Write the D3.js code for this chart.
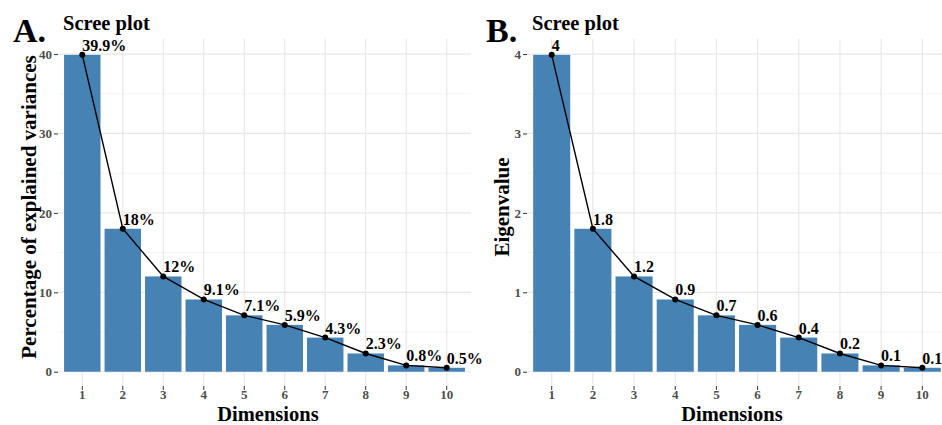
<!DOCTYPE html>
<html>
<head>
<meta charset="utf-8">
<script src="https://cdn.jsdelivr.net/npm/d3@7"></script>
<style>
  body { margin: 0; background: #fff; }
  svg text { font-family: "Liberation Serif", "Times New Roman", serif; font-weight: bold; }
</style>
</head>
<body>
<div id="chart"></div>
<script>
// Data
var dims = [1, 2, 3, 4, 5, 6, 7, 8, 9, 10];
var variances = [39.9, 18, 12, 9.1, 7.1, 5.9, 4.3, 2.3, 0.8, 0.5];
var varLabels = ["39.9%", "18%", "12%", "9.1%", "7.1%", "5.9%", "4.3%", "2.3%", "0.8%", "0.5%"];
var eigenvalues = [3.99, 1.8, 1.2, 0.91, 0.71, 0.59, 0.43, 0.23, 0.08, 0.05];
var eigLabels = ["4", "1.8", "1.2", "0.9", "0.7", "0.6", "0.4", "0.2", "0.1", "0.1"];
var varTicks = [0, 10, 20, 30, 40];
var varMinor = [5, 15, 25, 35];
var eigTicks = [0, 1, 2, 3, 4];
var eigMinor = [0.5, 1.5, 2.5, 3.5];

var W = 942, H = 425;
var SERIF = '"Liberation Serif", "Times New Roman", serif';

var svg = d3.select("#chart")
    .append("svg")
    .attr("width", W)
    .attr("height", H)
    .attr("font-family", SERIF);

function screePlot(opt) {
    var g = svg.append("g");
    var top = 39, bottom = 386;
    var maxV = d3.max(opt.values);

    var x = d3.scaleBand()
        .domain(dims)
        .range([opt.left, opt.right])
        .paddingInner(0.1)
        .paddingOuter(0.15);

    var y = d3.scaleLinear()
        .domain([-0.045 * maxV, 1.05 * maxV])
        .range([bottom, top]);

    // grid
    g.append("g").selectAll("line")
        .data(opt.minor)
        .enter().append("line")
        .attr("x1", opt.left).attr("x2", opt.right)
        .attr("y1", d => y(d)).attr("y2", d => y(d))
        .attr("stroke", "#f4f4f4").attr("stroke-width", 1);
    g.append("g").selectAll("line")
        .data(opt.ticks)
        .enter().append("line")
        .attr("x1", opt.left).attr("x2", opt.right)
        .attr("y1", d => y(d)).attr("y2", d => y(d))
        .attr("stroke", "#e8e8e8").attr("stroke-width", 1.2);
    g.append("g").selectAll("line")
        .data(dims)
        .enter().append("line")
        .attr("x1", d => x(d) + x.bandwidth() / 2).attr("x2", d => x(d) + x.bandwidth() / 2)
        .attr("y1", top).attr("y2", bottom)
        .attr("stroke", "#e8e8e8").attr("stroke-width", 1.2);

    // bars
    g.append("g").selectAll("rect")
        .data(opt.values)
        .enter().append("rect")
        .attr("x", (d, i) => x(dims[i]))
        .attr("y", d => y(d))
        .attr("width", x.bandwidth())
        .attr("height", d => y(0) - y(d))
        .attr("fill", "#4682B4");

    // line + points
    var line = d3.line()
        .x((d, i) => x(dims[i]) + x.bandwidth() / 2)
        .y(d => y(d));
    g.append("path")
        .datum(opt.values)
        .attr("d", line)
        .attr("fill", "none")
        .attr("stroke", "#000")
        .attr("stroke-width", 1.4);
    g.append("g").selectAll("circle")
        .data(opt.values)
        .enter().append("circle")
        .attr("cx", (d, i) => x(dims[i]) + x.bandwidth() / 2)
        .attr("cy", d => y(d))
        .attr("r", 3)
        .attr("fill", "#000");

    // value labels
    g.append("g").selectAll("text")
        .data(opt.values)
        .enter().append("text")
        .attr("x", (d, i) => x(dims[i]) + x.bandwidth() / 2)
        .attr("y", d => y(d) - 4)
        .attr("font-size", 16)
        .attr("fill", "#000")
        .text((d, i) => opt.labels[i]);

    // axes
    var yAxis = d3.axisLeft(y)
        .tickValues(opt.ticks)
        .tickFormat(d3.format("d"))
        .tickSize(4)
        .tickPadding(2);
    var ya = g.append("g")
        .attr("transform", "translate(" + opt.left + ",0)")
        .call(yAxis)
        .attr("font-family", SERIF);
    ya.select(".domain").remove();
    ya.selectAll(".tick line").attr("stroke", "#333");
    ya.selectAll(".tick text")
        .attr("font-size", 13)
        .attr("fill", "#4d4d4d");

    var xAxis = d3.axisBottom(x)
        .tickSize(4)
        .tickPadding(0);
    var xa = g.append("g")
        .attr("transform", "translate(0," + bottom + ")")
        .call(xAxis)
        .attr("font-family", SERIF);
    xa.select(".domain").remove();
    xa.selectAll(".tick line").attr("stroke", "#333");
    xa.selectAll(".tick text")
        .attr("font-size", 13)
        .attr("fill", "#4d4d4d");

    // titles
    g.append("text")
        .attr("x", opt.left + 5)
        .attr("y", 30)
        .attr("font-size", 20.5)
        .text("Scree plot");
    g.append("text")
        .attr("x", opt.tagX)
        .attr("y", 42)
        .attr("font-size", 34)
        .text(opt.tag);
    g.append("text")
        .attr("x", opt.xTitleX)
        .attr("y", 420.5)
        .attr("text-anchor", "middle")
        .attr("font-size", 20.5)
        .text("Dimensions");
    g.append("text")
        .attr("transform", "translate(" + opt.yTitleX + ",207) rotate(-90)")
        .attr("text-anchor", "middle")
        .attr("font-size", 21)
        .text(opt.yTitle);
}

screePlot({
    left: 58, right: 471, values: variances, labels: varLabels,
    ticks: varTicks, minor: varMinor, tag: "A.", tagX: 13,
    yTitle: "Percentage of explained variances", yTitleX: 36, xTitleX: 268
});
screePlot({
    left: 527, right: 947, values: eigenvalues, labels: eigLabels,
    ticks: eigTicks, minor: eigMinor, tag: "B.", tagX: 486,
    yTitle: "Eigenvalue", yTitleX: 509, xTitleX: 732
});
</script>
</body>
</html>
